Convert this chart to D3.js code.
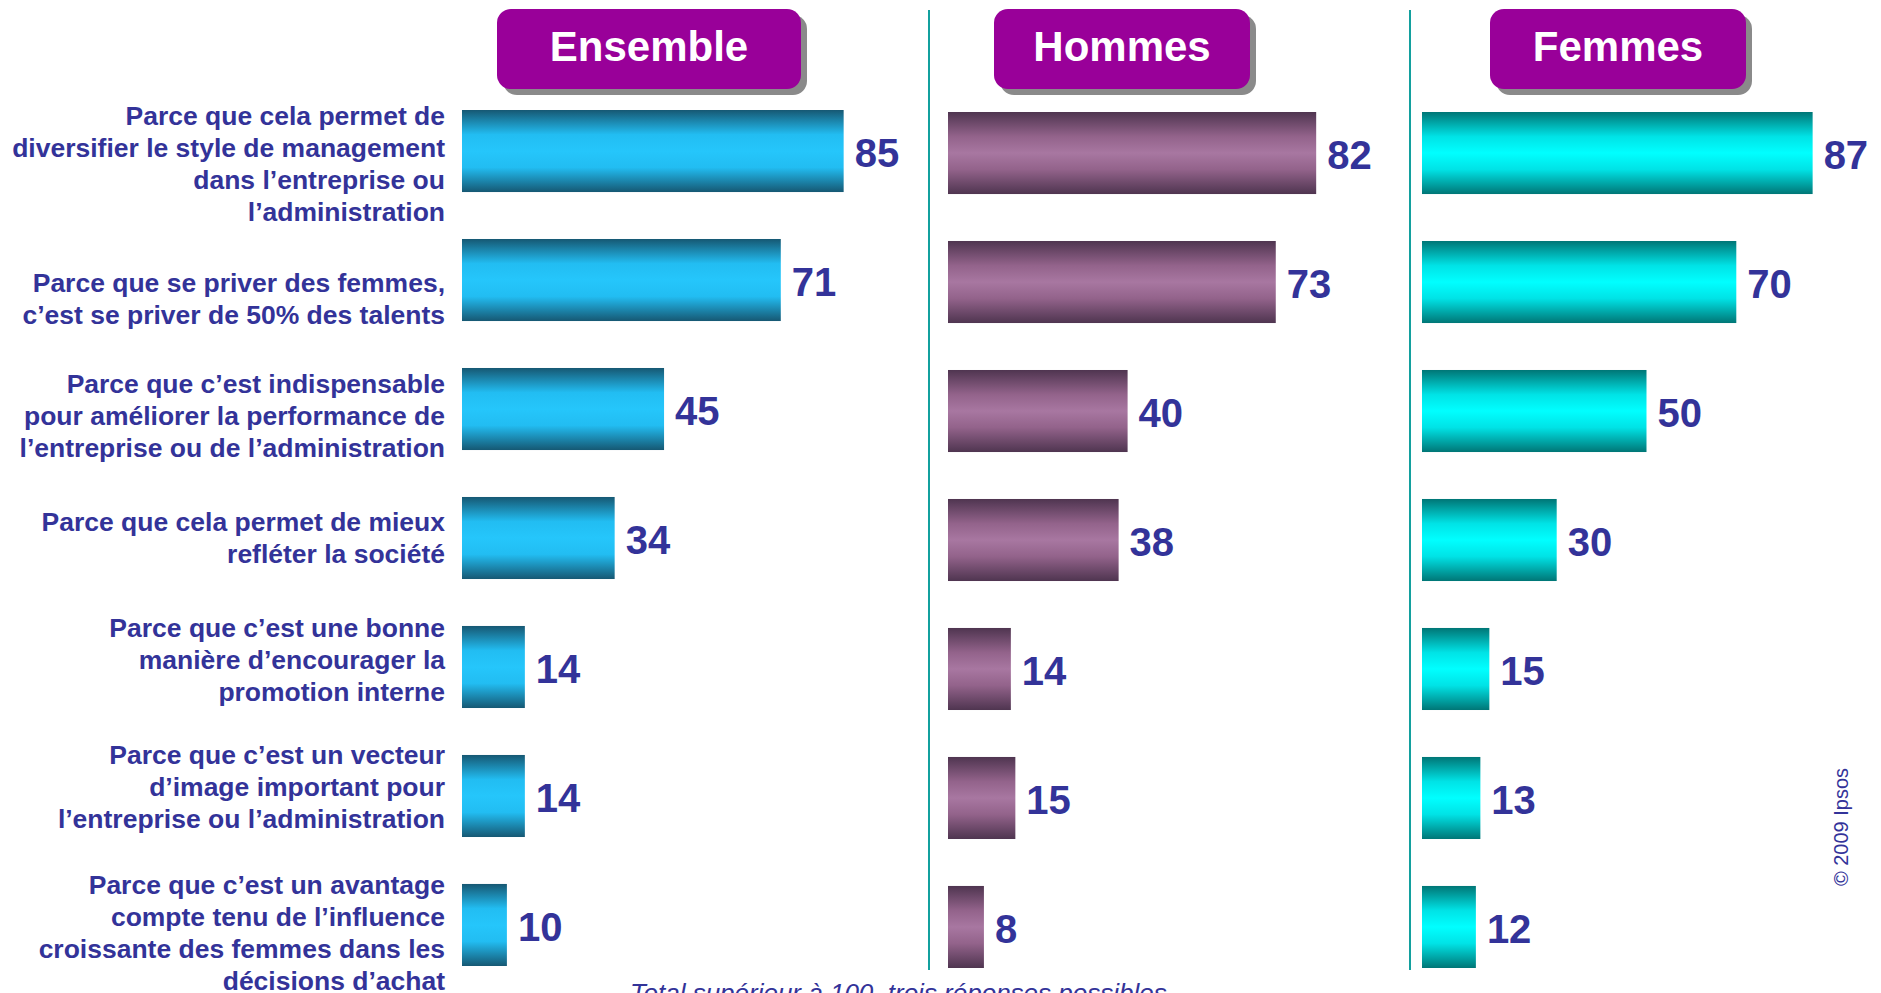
<!DOCTYPE html>
<html>
<head>
<meta charset="utf-8">
<script src="https://cdn.jsdelivr.net/npm/d3@7"></script>
<style>
    body { margin: 0; background: #fff; }
    svg { display: block; font-family: "Liberation Sans", Arial, sans-serif; }
</style>
</head>
<body>
<div id="chart"></div>
<script>
// data
let reasons = [
    ["Parce que cela permet de", "diversifier le style de management", "dans l\u2019entreprise ou", "l\u2019administration"],
    ["Parce que se priver des femmes,", "c\u2019est se priver de 50% des talents"],
    ["Parce que c\u2019est indispensable", "pour améliorer la performance de", "l\u2019entreprise ou de l\u2019administration"],
    ["Parce que cela permet de mieux", "refléter la société"],
    ["Parce que c\u2019est une bonne", "manière d\u2019encourager la", "promotion interne"],
    ["Parce que c\u2019est un vecteur", "d\u2019image important pour", "l\u2019entreprise ou l\u2019administration"],
    ["Parce que c\u2019est un avantage", "compte tenu de l\u2019influence", "croissante des femmes dans les", "décisions d\u2019achat"]
];
let ensembleValues = [85, 71, 45, 34, 14, 14, 10];
let hommesValues = [82, 73, 40, 38, 14, 15, 8];
let femmesValues = [87, 70, 50, 30, 15, 13, 12];
let panelNames = ["Ensemble", "Hommes", "Femmes"];
let footnote = "Total supérieur à 100, trois réponses possibles";
let copyright = "\u00a9 2009 Ipsos";

let svgWidth = 1881;
let svgHeight = 993;
let textColor = "#333399";

let svg = d3.select("#chart")
    .append("svg")
    .attr("width", svgWidth)
    .attr("height", svgHeight);

// layout of the three panels
let panels = [
    { name: panelNames[0], values: ensembleValues, x0: 462, dy: 0, box: [497, 304], grad: ["#165873", "#22bdf2", "#25c6fb"] },
    { name: panelNames[1], values: hommesValues, x0: 948, dy: 2, box: [994, 256], grad: ["#4f3550", "#93638b", "#a877a1"] },
    { name: panelNames[2], values: femmesValues, x0: 1422, dy: 2, box: [1490, 256], grad: ["#007676", "#00e3e6", "#00ffff"] }
];
let labelShift = [14, 20, 8, 1, -6, -8, 9];

let x = d3.scaleLinear().domain([0, 100]).range([0, 449]);
let y = d3.scaleBand()
    .domain(d3.range(reasons.length))
    .range([110, 966])
    .paddingInner(0.364);

let defs = svg.append("defs");
panels.forEach(function (p, i) {
    let g = defs.append("linearGradient")
        .attr("id", "grad" + i)
        .attr("x1", 0).attr("y1", 0).attr("x2", 0).attr("y2", 1);
    [[0, p.grad[0]], [0.3, p.grad[1]], [0.5, p.grad[2]], [0.7, p.grad[1]], [1, p.grad[0]]]
        .forEach(s => g.append("stop").attr("offset", s[0]).attr("stop-color", s[1]));
});

// separators
[929, 1410].forEach(function (sx) {
    svg.append("line")
        .attr("x1", sx).attr("x2", sx)
        .attr("y1", 10).attr("y2", 970)
        .attr("stroke", "#13a09e")
        .attr("stroke-width", 2);
});

// headers
panels.forEach(function (p) {
    let hdr = svg.append("g");
    hdr.append("rect")
        .attr("x", p.box[0] + 6).attr("y", 15)
        .attr("width", p.box[1]).attr("height", 80)
        .attr("rx", 14)
        .attr("fill", "#8a8a8a");
    hdr.append("rect")
        .attr("x", p.box[0]).attr("y", 9)
        .attr("width", p.box[1]).attr("height", 80)
        .attr("rx", 14)
        .attr("fill", "#990099");
    hdr.append("text")
        .attr("x", p.box[0] + p.box[1] / 2)
        .attr("y", 61)
        .attr("text-anchor", "middle")
        .attr("fill", "#fff")
        .attr("font-weight", "bold")
        .attr("font-size", 42)
        .text(p.name);
});

// bars and values
panels.forEach(function (p, i) {
    let chart = svg.append("g")
        .attr("transform", `translate(${p.x0}, ${p.dy})`);

    chart.selectAll("rect")
        .data(p.values)
        .enter()
        .append("rect")
        .attr("x", 0)
        .attr("y", (d, j) => y(j))
        .attr("width", d => x(d))
        .attr("height", y.bandwidth())
        .attr("fill", `url(#grad${i})`);

    chart.selectAll("text")
        .data(p.values)
        .enter()
        .append("text")
        .attr("x", d => x(d) + 11)
        .attr("y", (d, j) => y(j) + y.bandwidth() / 2 + 16)
        .attr("fill", textColor)
        .attr("font-weight", "bold")
        .attr("font-size", 40)
        .text(d => d);
});

// category labels (the original type is a little wider than Arial)
let lineH = 32;
let labels = svg.append("g")
    .attr("transform", "translate(445, 0) scale(1.06, 1)");
reasons.forEach(function (lines, j) {
    let cy = y(j) + y.bandwidth() / 2 + labelShift[j];
    let t = labels.append("text")
        .attr("text-anchor", "end")
        .attr("fill", textColor)
        .attr("font-weight", "bold")
        .attr("font-size", 25);
    lines.forEach(function (ln, k) {
        t.append("tspan")
            .attr("x", 0)
            .attr("y", cy + (k - (lines.length - 1) / 2) * lineH + 8)
            .text(ln);
    });
});

svg.append("text")
    .attr("x", 630)
    .attr("y", 1002)
    .attr("fill", textColor)
    .attr("font-style", "italic")
    .attr("font-size", 26)
    .text(footnote);

svg.append("text")
    .attr("transform", "translate(1848, 827) rotate(-90)")
    .attr("text-anchor", "middle")
    .attr("fill", textColor)
    .attr("font-size", 20)
    .text(copyright);
</script>
</body>
</html>
